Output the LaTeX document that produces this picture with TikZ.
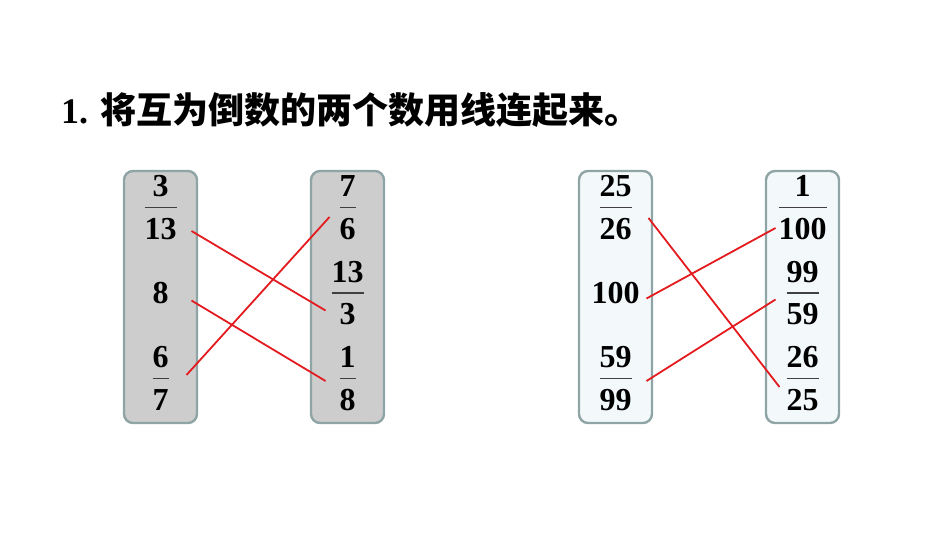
\documentclass[tikz,border=0pt]{standalone}
\usepackage{fontspec}
\setmainfont{Liberation Serif}
\newfontfamily\cjk{Noto Sans CJK SC}
\usepackage{colortbl}
\definecolor{boxline}{HTML}{8FA4A4}
\definecolor{boxgray}{HTML}{CDCDCD}
\definecolor{boxpale}{HTML}{F3F9FB}
\definecolor{linkred}{HTML}{E31B1F}
\setlength{\arrayrulewidth}{1.5pt}
\arrayrulecolor{black!75}
\newcommand{\fr}[2]{\begin{tabular}{@{}c@{}}\rule[-10pt]{0pt}{40pt}#1\\\hline\rule{0pt}{31pt}#2\end{tabular}}

\begin{document}
\begin{tikzpicture}[x=1pt,y=1pt,node distance=85.5pt,
		col box/.style={draw=boxline,line width=2.4pt,rounded corners=9pt,minimum width=73pt,minimum height=252pt,inner sep=0pt},
		gray box/.style={col box,fill=boxgray},
		pale box/.style={col box,fill=boxpale},
		num/.style={inner sep=0pt,font=\fontsize{32}{34}\selectfont\bfseries},
		link/.style={draw=linkred,line width=1.8pt}]
		
		\useasboundingbox (0,0) rectangle (950,-535);
		
		\node[anchor=west,inner sep=0pt] (title) at (61,-110) {\bfseries\fontsize{36}{40}\selectfont 1. {\cjk 将互为倒数的两个数用线连起来。}};
		
		\node[gray box] (box1) at (160.5,-297) {};
		\node[gray box] (box2) at (347.5,-297) {};
		\node[pale box] (box3) at (615.5,-297) {};
		\node[pale box] (box4) at (802.5,-297) {};
		
		\node[num] (a1) at (160.5,-208) {\fr{3}{13}};
		\node[num] (a2) [below of=a1] {8};
		\node[num] (a3) [below of=a2] {\fr{6}{7}};
		
		\node[num] (b1) at (347.5,-208) {\fr{7}{6}};
		\node[num] (b2) [below of=b1] {\fr{13}{3}};
		\node[num] (b3) [below of=b2] {\fr{1}{8}};
		
		\node[num] (c1) at (615.5,-208) {\fr{25}{26}};
		\node[num] (c2) [below of=c1] {100};
		\node[num] (c3) [below of=c2] {\fr{59}{99}};
		
		\node[num] (d1) at (802.5,-208) {\fr{1}{100}};
		\node[num] (d2) [below of=d1] {\fr{99}{59}};
		\node[num] (d3) [below of=d2] {\fr{26}{25}};
		
		\path[link]
		([shift={(31,-23)}]a1.center) edge ([shift={(-22,-17)}]b2.center)
		([shift={(31,-7)}]a2.center) edge ([shift={(-22,-2)}]b3.center)
		([shift={(26,4)}]a3.center) edge ([shift={(-18,-9)}]b1.center)
		([shift={(33,-10)}]c1.center) edge ([shift={(-23,-8)}]d3.center)
		([shift={(31,-5)}]c2.center) edge ([shift={(-27,-20)}]d1.center)
		([shift={(31,-2)}]c3.center) edge ([shift={(-27,-6)}]d2.center)
		;
		\end{tikzpicture}
\end{document}
